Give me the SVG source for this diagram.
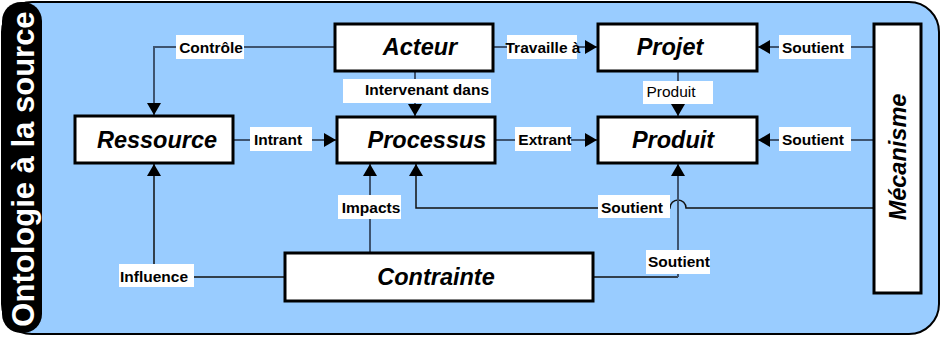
<svg xmlns="http://www.w3.org/2000/svg" width="941" height="338" viewBox="0 0 941 338">
  <defs>
    <marker id="arrow" viewBox="0 0 12 14" refX="12" refY="7" markerWidth="12" markerHeight="14" markerUnits="userSpaceOnUse" orient="auto">
      <path d="M0,0 L12,7 L0,14 z" fill="#000"/>
    </marker>
    <style>
      .node rect { fill: #fff; stroke: #000; stroke-width: 3; }
      .node text { font-family: "Liberation Sans", Arial, sans-serif; font-weight: bold; font-style: italic; font-size: 23.5px; fill: #000; text-anchor: middle; }
      .conn { fill: none; stroke: #3e5470; stroke-width: 2; }
      .conn.thin { stroke: #111; stroke-width: 1.5; }
      .lbl rect { fill: #fff; }
      .lbl text { font-family: "Liberation Sans", Arial, sans-serif; font-weight: bold; font-size: 15.5px; fill: #000; text-anchor: middle; }
      .lbl text.plain { font-weight: normal; }
    </style>
  </defs>

  <!-- frame -->
  <rect x="2" y="2" width="937" height="332" rx="30" ry="30" fill="#99ccff" stroke="#000" stroke-width="2"/>
  <rect x="2" y="2" width="40" height="331" rx="19" ry="19" fill="#000"/>
  <text transform="translate(34,169) rotate(-90)" text-anchor="middle" font-family="Liberation Sans, Arial, sans-serif" font-weight="bold" font-size="31" fill="#fff">Ontologie à la source</text>

  <!-- connectors -->
  <g id="connectors">
    <path class="conn" d="M335,47 H154 V115" marker-end="url(#arrow)"/>
    <path class="conn" d="M493,47 H597" marker-end="url(#arrow)"/>
    <path class="conn" d="M415,71 V116" marker-end="url(#arrow)"/>
    <path class="conn" d="M233,140 H336" marker-end="url(#arrow)"/>
    <path class="conn" d="M495,140 H597" marker-end="url(#arrow)"/>
    <path class="conn" d="M678,71 V116" marker-end="url(#arrow)"/>
    <path class="conn" d="M874,47 H758" marker-end="url(#arrow)"/>
    <path class="conn" d="M874,140 H758" marker-end="url(#arrow)"/>
    <path class="conn thin" d="M874,208 H686 A8,8 0 0 0 670,208 H416 V164" marker-end="url(#arrow)"/>
    <path class="conn" d="M370,253 V164" marker-end="url(#arrow)"/>
    <path class="conn thin" d="M285,277 H154 V164" marker-end="url(#arrow)"/>
    <path class="conn thin" d="M593,277 H678"/>
    <path class="conn" d="M678,277 V164" marker-end="url(#arrow)"/>

    <g class="lbl">
      <rect x="176" y="35" width="68" height="24"/><text x="211" y="53">Contrôle</text>
      <rect x="507" y="35" width="70" height="24"/><text x="543" y="53">Travaille à</text>
      <rect x="343" y="79" width="148" height="24"/><text x="427" y="95">Intervenant dans</text>
      <rect x="250" y="127" width="62" height="24"/><text x="278" y="145">Intrant</text>
      <rect x="515" y="127" width="56" height="24"/><text x="545" y="145">Extrant</text>
      <rect x="643" y="81" width="70" height="23"/><text class="plain" x="671" y="97">Produit</text>
      <rect x="779" y="35" width="72" height="24"/><text x="813" y="53">Soutient</text>
      <rect x="779" y="127" width="72" height="24"/><text x="813" y="145">Soutient</text>
      <rect x="598" y="195" width="72" height="23"/><text x="632" y="213">Soutient</text>
      <rect x="338" y="195" width="63" height="24"/><text x="371" y="213">Impacts</text>
      <rect x="119" y="264" width="75" height="23"/><text x="154" y="282">Influence</text>
      <rect x="646" y="250" width="64" height="24"/><text x="679" y="267">Soutient</text>
    </g>
  </g>

  <!-- nodes -->
  <g id="acteur" class="node"><rect x="335" y="24" width="158" height="47"/><text x="420" y="55">Acteur</text></g>
  <g id="projet" class="node"><rect x="598" y="24" width="159" height="47"/><text x="670" y="55">Projet</text></g>
  <g id="ressource" class="node"><rect x="75" y="116" width="158" height="47"/><text x="157" y="148">Ressource</text></g>
  <g id="processus" class="node"><rect x="337" y="117" width="158" height="46"/><text x="427" y="148">Processus</text></g>
  <g id="produit" class="node"><rect x="598" y="117" width="159" height="46"/><text x="673" y="148">Produit</text></g>
  <g id="contrainte" class="node"><rect x="285" y="253" width="308" height="48"/><text x="436" y="285">Contrainte</text></g>
  <g id="mecanisme" class="node"><rect x="874" y="24" width="47" height="269"/><text transform="translate(906,157) rotate(-90)">Mécanisme</text></g>
</svg>
